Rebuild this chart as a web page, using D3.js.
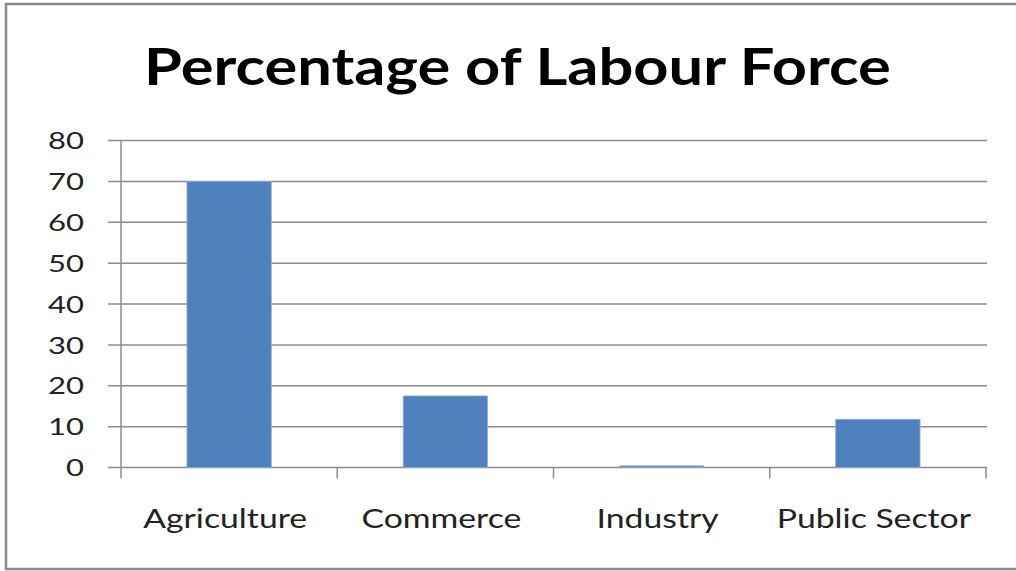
<!DOCTYPE html>
<html><head><meta charset="utf-8">
<script src="https://cdn.jsdelivr.net/npm/d3@7"></script>
<style>html,body{margin:0;padding:0;background:#fff;}svg{display:block;}</style>
</head><body>
<script>
const categories = ["Agriculture", "Commerce", "Industry", "Public Sector"];
const values = [70, 17.5, 0.4, 11.8];
const yTicks = [0, 10, 20, 30, 40, 50, 60, 70, 80];
const title = "Percentage of Labour Force";

(function () {
const W = 1016, H = 571;
const svg = d3.select("body").append("svg").attr("width", W).attr("height", H);

svg.append("rect").attr("x", 6).attr("y", 4).attr("width", 1030).attr("height", 565)
  .attr("fill", "#fff").attr("stroke", "#8a8a8a").attr("stroke-width", 2.5);

const pLeft = 121, pRight = 986, pTop = 140.5, pBottom = 467.5;
const x = d3.scaleBand().domain(categories).range([pLeft, pRight]).paddingInner(0.61).paddingOuter(0.305);
const xb = d3.scaleBand().domain(categories).range([pLeft, pRight]);
const y = d3.scaleLinear().domain([0, 80]).range([pBottom, pTop]);

const grid = "#8c8c8c";
svg.append("g").selectAll("line").data(yTicks).join("line")
  .attr("x1", pLeft - 13).attr("x2", pRight + 1)
  .attr("y1", d => y(d)).attr("y2", d => y(d))
  .attr("stroke", grid).attr("stroke-width", 1.5);

svg.append("line").attr("x1", pLeft).attr("x2", pLeft).attr("y1", pTop).attr("y2", pBottom + 11)
  .attr("stroke", grid).attr("stroke-width", 1.5);
svg.append("g").selectAll("line").data(categories.map(c => xb(c) + xb.bandwidth()))
  .join("line").attr("x1", d => d).attr("x2", d => d).attr("y1", pBottom).attr("y2", pBottom + 11)
  .attr("stroke", grid).attr("stroke-width", 1.5);

svg.append("g").selectAll("rect").data(values).join("rect")
  .attr("x", (d, i) => x(categories[i])).attr("width", x.bandwidth())
  .attr("y", d => y(d)).attr("height", d => y(0) - y(d))
  .attr("fill", "#4F81BD").attr("stroke", "#8fb0d8").attr("stroke-width", 0.8);

const yl = svg.append("g").selectAll("text").data(yTicks).join("text")
  .attr("font-family", "Lato, 'Open Sans', sans-serif").attr("font-size", 24)
  .attr("fill", "#222").attr("text-anchor", "end")
  .text(d => d);
const w80 = yl.filter(d => d === 80).node().getComputedTextLength();
const sy = 36 / w80;
yl.attr("transform", d => `translate(84,${y(d) + 8.7}) scale(${sy},1)`);

const cl = svg.append("g").selectAll("text").data(categories).join("text")
  .attr("font-family", "Lato, 'Open Sans', sans-serif").attr("font-size", 27)
  .attr("fill", "#222").attr("text-anchor", "middle").text(d => d);
const aggW = cl.node().getComputedTextLength();
const sx = 164 / aggW;
cl.attr("transform", d => `translate(${xb(d) + xb.bandwidth() / 2 - 4},528) scale(${sx},1)`);

const t = svg.append("text").attr("font-family", "Lato, 'Open Sans', sans-serif")
  .attr("font-weight", "bold").attr("font-size", 52).attr("fill", "#000")
  .attr("text-anchor", "middle").text(title);
const tw = t.node().getComputedTextLength();
t.attr("transform", `translate(517.5,85) scale(${747 / tw},1)`);
})();
</script>
</body></html>
